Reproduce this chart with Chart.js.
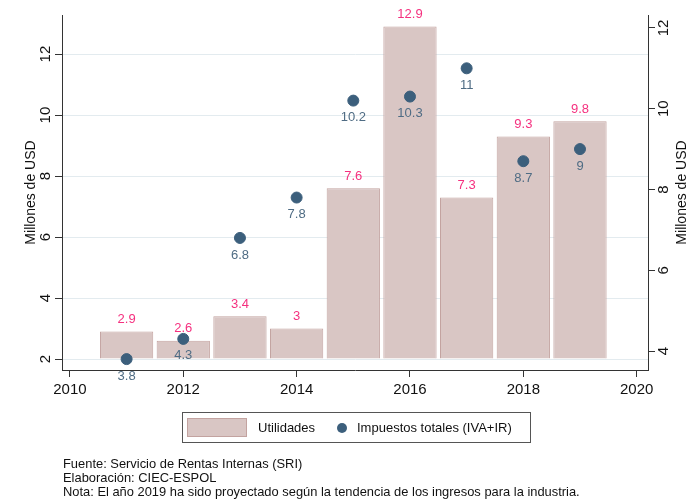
<!DOCTYPE html>
<html>
<head>
<meta charset="utf-8">
<script src="https://cdn.jsdelivr.net/npm/chart.js@4.4.1/dist/chart.umd.min.js"></script>
<style>
  body { margin: 0; background: #fff; }
  #wrap { position: relative; width: 688px; height: 500px; }
  .note { position: absolute; left: 63px; top: 457px; font: 12.9px "Liberation Sans", Arial, sans-serif; color: #111; line-height: 14px; }
</style>
</head>
<body>
<div id="wrap">
  <canvas id="chart" width="688" height="500"></canvas>
  <div class="note">
    Fuente: Servicio de Rentas Internas (SRI)<br>
    Elaboración: CIEC-ESPOL<br>
    Nota: El año 2019 ha sido proyectado según la tendencia de los ingresos para la industria.
  </div>
</div>
<script>
// Data
const years = [2011, 2012, 2013, 2014, 2015, 2016, 2017, 2018, 2019]
const utilidades = [2.9, 2.6, 3.4, 3, 7.6, 12.9, 7.3, 9.3, 9.8]
const impuestos = [3.8, 4.3, 6.8, 7.8, 10.2, 10.3, 11, 8.7, 9]

const xTicks = [2010, 2012, 2014, 2016, 2018, 2020]
const leftTicks = [2, 4, 6, 8, 10, 12]
const rightTicks = [4, 6, 8, 10, 12]

const FONT = "'Liberation Sans', Arial, sans-serif"
const BAR_FILL = "#d9c6c4"
const BAR_LINE = "#c3a3a0"
const DOT = "#3c5f7c"
const BAR_LABEL = "#f5307f"
const DOT_LABEL = "#4f6c84"
const AXIS = "#333"

const setTicks = (list) => (scale) => {
  scale.ticks = list.map((value) => ({ value }))
}
const plain = (v) => String(v)

// value labels above bars / below dots
const valueLabels = {
  id: "valueLabels",
  afterDatasetsDraw(chart) {
    const ctx = chart.ctx
    ctx.save()
    ctx.font = `13px ${FONT}`
    ctx.textAlign = "center"
    ctx.textBaseline = "middle"
    chart.data.datasets.forEach((ds, i) => {
      chart.getDatasetMeta(i).data.forEach((el, j) => {
        const v = ds.data[j].y
        if (ds.type === "bar") {
          ctx.fillStyle = BAR_LABEL
          ctx.fillText(String(v), el.x, el.y - 12)
        } else {
          ctx.fillStyle = DOT_LABEL
          ctx.fillText(String(v), el.x, el.y + 17)
        }
      })
    })
    ctx.restore()
  },
}

// boxed legend + right axis title
const extras = {
  id: "extras",
  afterDraw(chart) {
    const ctx = chart.ctx
    const bars = chart.data.datasets.find((d) => d.type === "bar")
    const dots = chart.data.datasets.find((d) => d.type === "scatter")
    ctx.save()
    ctx.strokeStyle = "#555"
    ctx.lineWidth = 1
    ctx.strokeRect(182.5, 412.5, 348, 30)

    ctx.fillStyle = bars.backgroundColor
    ctx.fillRect(187, 418, 60, 19)
    ctx.strokeStyle = bars.borderColor
    ctx.strokeRect(187.5, 418.5, 59, 18)

    ctx.font = `13px ${FONT}`
    ctx.fillStyle = "#111"
    ctx.textBaseline = "middle"
    ctx.textAlign = "left"
    ctx.fillText(bars.label, 258, 428)

    ctx.fillStyle = dots.backgroundColor
    ctx.beginPath()
    ctx.arc(342, 428, 5, 0, Math.PI * 2)
    ctx.fill()
    ctx.fillStyle = "#111"
    ctx.fillText(dots.label, 357, 428)

    const area = chart.chartArea
    ctx.translate(682, (area.top + area.bottom) / 2)
    ctx.rotate(-Math.PI / 2)
    ctx.textAlign = "center"
    ctx.font = `14px ${FONT}`
    ctx.fillText("Millones de USD", 0, 0)
    ctx.restore()
  },
}

new Chart(document.getElementById("chart"), {
  type: "bar",
  data: {
    datasets: [
      {
        type: "bar",
        label: "Utilidades",
        data: years.map((x, i) => ({ x, y: utilidades[i] })),
        base: 2,
        backgroundColor: BAR_FILL,
        borderColor: BAR_LINE,
        borderWidth: 1,
        barPercentage: 0.94,
        categoryPercentage: 1,
        yAxisID: "y",
        order: 2,
      },
      {
        type: "scatter",
        label: "Impuestos totales (IVA+IR)",
        data: years.map((x, i) => ({ x, y: impuestos[i] })),
        backgroundColor: DOT,
        borderColor: DOT,
        pointRadius: 5.5,
        yAxisID: "y2",
        clip: false,
        order: 1,
      },
    ],
  },
  options: {
    responsive: false,
    animation: false,
    layout: { padding: { top: 15, bottom: 100, left: 0, right: 0 } },
    plugins: {
      legend: { display: false },
      tooltip: { enabled: false },
    },
    scales: {
      x: {
        type: "linear",
        min: 2009.86,
        max: 2020.2,
        offset: false,
        afterBuildTicks: setTicks(xTicks),
        afterFit: (s) => { s.height = 30 },
        border: { color: AXIS },
        grid: { drawOnChartArea: false, offset: false, tickLength: 7, tickColor: AXIS },
        ticks: { color: "#111", font: { family: FONT, size: 15 }, padding: 4, maxRotation: 0, callback: plain },
      },
      y: {
        position: "left",
        min: 1.64,
        max: 13.28,
        afterBuildTicks: setTicks(leftTicks),
        afterFit: (s) => { s.width = 62 },
        border: { color: AXIS },
        grid: { color: "#e3ebef", tickLength: 7, tickColor: AXIS },
        ticks: { color: "#111", font: { family: FONT, size: 15 }, minRotation: 90, maxRotation: 90, crossAlign: "center", padding: 1, callback: plain },
        title: { display: true, text: "Millones de USD", color: "#111", font: { family: FONT, size: 14 }, padding: { top: 23, bottom: 0 } },
      },
      y2: {
        position: "right",
        min: 3.53,
        max: 12.32,
        afterBuildTicks: setTicks(rightTicks),
        afterFit: (s) => { s.width = 40 },
        border: { color: AXIS },
        grid: { drawOnChartArea: false, tickLength: 7, tickColor: AXIS },
        ticks: { color: "#111", font: { family: FONT, size: 15 }, minRotation: 90, maxRotation: 90, crossAlign: "center", padding: 1, callback: plain },
      },
    },
  },
  plugins: [valueLabels, extras],
})
</script>
</body>
</html>
